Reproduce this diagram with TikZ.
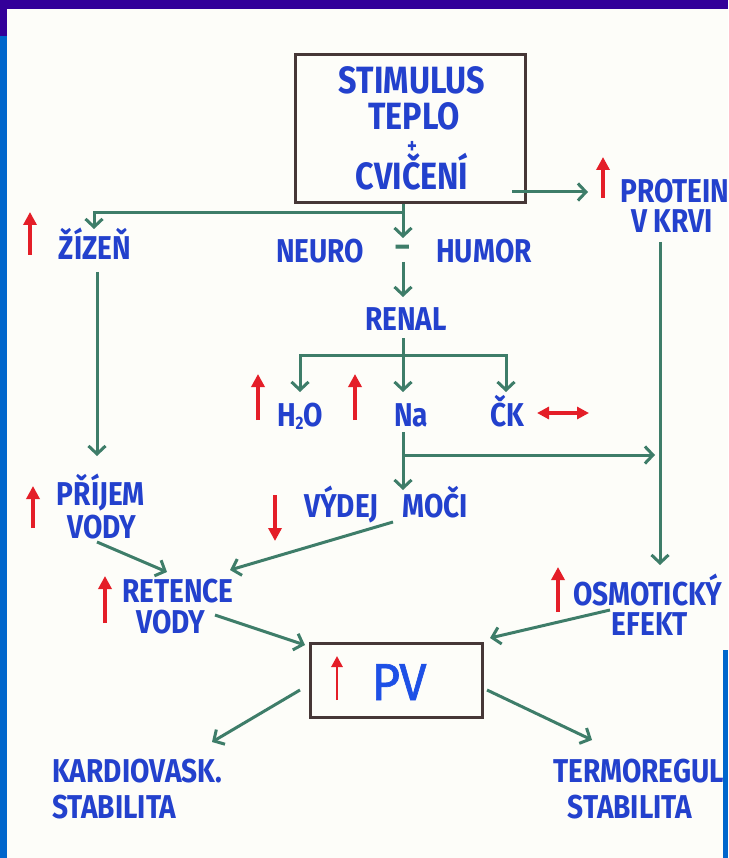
\documentclass[tikz,border=0pt]{standalone}
\usepackage{fontspec}
\setmainfont{Fira Sans}[FakeStretch=0.85]
\newfontfamily\pvfont{Fira Sans}[FakeStretch=0.95,FakeBold=1.2]
\usetikzlibrary{arrows.meta}
\definecolor{tblue}{RGB}{35,65,205}
\definecolor{pvblue}{RGB}{30,80,230}
\definecolor{agreen}{RGB}{62,125,105}
\definecolor{rcol}{RGB}{228,30,40}
\definecolor{bcol}{RGB}{70,55,55}
\definecolor{pur}{RGB}{51,0,153}
\definecolor{sblue}{RGB}{0,102,204}
\definecolor{bgc}{RGB}{253,253,249}
\begin{document}
\begin{tikzpicture}[x=1pt,y=-1pt,
  lbl/.style={text=tblue,font=\bfseries\fontsize{33}{38}\selectfont,inner sep=0pt,anchor=base},
  big/.style={lbl,font=\bfseries\fontsize{38}{40}\selectfont},
  conn/.style={draw=agreen,line width=3pt,-{Straight Barb[length=8pt,width=17pt]}},
  redarr/.style={draw=rcol,line width=3.4pt,-{Triangle[length=13pt,width=13pt]}},
  redthin/.style={draw=rcol,line width=2.8pt,-{Triangle[length=11pt,width=11pt]}},
  redboth/.style={draw=rcol,line width=3.2pt,{Triangle[length=12pt,width=12pt]}-{Triangle[length=12pt,width=12pt]}},
  frame/.style={draw=bcol,line width=3pt,inner sep=0pt}]

\useasboundingbox (0,0) rectangle (728,858);
\fill[bgc] (0,0) rectangle (728,858);
\fill[pur] (0,0) rectangle (728,9);
\fill[pur] (0,0) rectangle (7,36);
\fill[sblue] (0,36) rectangle (7,858);
\fill[sblue] (723,650) rectangle (728,858);

% top box
\node[frame,minimum width=230pt,minimum height=148pt] (stim) at (410,129) {};
\node[big] (s1) at (412,94) {STIMULUS};
\node[big] (s2) at (414,130) {TEPLO};
\node[lbl,font=\bfseries\fontsize{22}{22}\selectfont] (s3) at (412,154) {+};
\node[big] (s4) at (412,190) {CVIČENÍ};

% labels
\node[lbl] (zizen) at (95,260) {ŽÍZEŇ};
\node[lbl] (neuro) at (320,262) {NEURO};
\node[lbl,text=agreen] (dash) at (403,258) {–};
\node[lbl] (humor) at (484,262) {HUMOR};
\node[lbl] (renal) at (406,330) {RENAL};
\node[lbl] (h2o) at (300,426) {H\raisebox{-3pt}{\fontsize{18}{18}\selectfont 2}O};
\node[lbl] (na) at (411,426) {Na};
\node[lbl] (ck) at (507,426) {ČK};
\node[lbl] (vydej) at (386,517) {VÝDEJ\hspace{24pt}MOČI};
\node[lbl] (prij1) at (101,505) {PŘÍJEM};
\node[lbl] (prij2) at (102,538) {VODY};
\node[lbl] (ret1) at (178,602) {RETENCE};
\node[lbl] (ret2) at (171,633) {VODY};
\node[lbl] (osm1) at (648,605) {OSMOTICKÝ};
\node[lbl] (osm2) at (650,635) {EFEKT};
\node[lbl] (prot1) at (675,203) {PROTEIN};
\node[lbl] (prot2) at (672,233) {V KRVI};
\node[lbl,anchor=base west] (kard1) at (52,782) {KARDIOVASK.};
\node[lbl,anchor=base west] (kard2) at (52,818) {STABILITA};
\node[lbl,anchor=base west] (term1) at (553,782) {TERMOREGUL};
\node[lbl] (term2) at (630,818) {STABILITA};

% PV box
\node[frame,minimum width=172pt,minimum height=74pt] (pv) at (396,680) {};
\node[lbl,text=pvblue,font=\pvfont\fontsize{52}{52}\selectfont] (pvt) at (399,700) {PV};

% junction / end coordinates
\coordinate (dT) at (403,238);
\coordinate (dB) at (403,262);
\coordinate (j1) at (403,213);
\coordinate (zT) at (94,229);
\coordinate (rT) at (403,297);
\coordinate (rB) at (403,338);
\coordinate (naT) at (403,392);
\coordinate (j2) at (403,355);
\coordinate (hT) at (300,392);
\coordinate (cT) at (506,392);
\coordinate (naB) at (403,432);
\coordinate (vT) at (403,490);
\coordinate (j3) at (403,455);
\coordinate (pJ) at (655,455);
\coordinate (prB) at (660,242);
\coordinate (oT) at (660,565);
\coordinate (stR) at (512,192);
\coordinate (pL) at (588,192);
\coordinate (zB) at (97,272);
\coordinate (prT) at (97,456);
\coordinate (pvB) at (97,542);
\coordinate (reT) at (167,572);
\coordinate (vyB) at (393,522);
\coordinate (reR) at (230,570);
\coordinate (reB) at (215,615);
\coordinate (pvL) at (305,645);
\coordinate (osB) at (610,610);
\coordinate (pvR) at (490,638);
\coordinate (pvBL) at (300,690);
\coordinate (kaT) at (212,742);
\coordinate (pvBR) at (487,690);
\coordinate (teT) at (592,740);

% connectors
\draw[conn] (stim.south -| dT) -- (dT);
\draw[conn] (j1) -| (zT);
\draw[conn] (dB) -- (rT);
\draw[conn] (rB) -- (naT);
\draw[conn] (j2) -| (hT);
\draw[conn] (j2) -| (cT);
\draw[conn] (naB) -- (vT);
\draw[conn] (j3) -- (pJ);
\draw[conn] (prB) -- (oT);
\draw[conn] (stR) -- (pL);
\draw[conn] (zB) -- (prT);
\draw[conn] (pvB) -- (reT);
\draw[conn] (vyB) -- (reR);
\draw[conn] (reB) -- (pvL);
\draw[conn] (osB) -- (pvR);
\draw[conn] (pvBL) -- (kaT);
\draw[conn] (pvBR) -- (teT);

% red arrows
\draw[redarr] (30,255) -- (30,212);
\draw[redarr] (603,198) -- (603,157);
\draw[redarr] (258,420) -- (258,374);
\draw[redarr] (355,420) -- (355,374);
\draw[redboth] (537,413) -- (589,413);
\draw[redarr] (33,528) -- (33,486);
\draw[redarr] (275,495) -- (275,541);
\draw[redarr] (105,623) -- (105,576);
\draw[redarr] (558,612) -- (558,567);
\draw[redthin] (337,700) -- (337,656);
\end{tikzpicture}
\end{document}
